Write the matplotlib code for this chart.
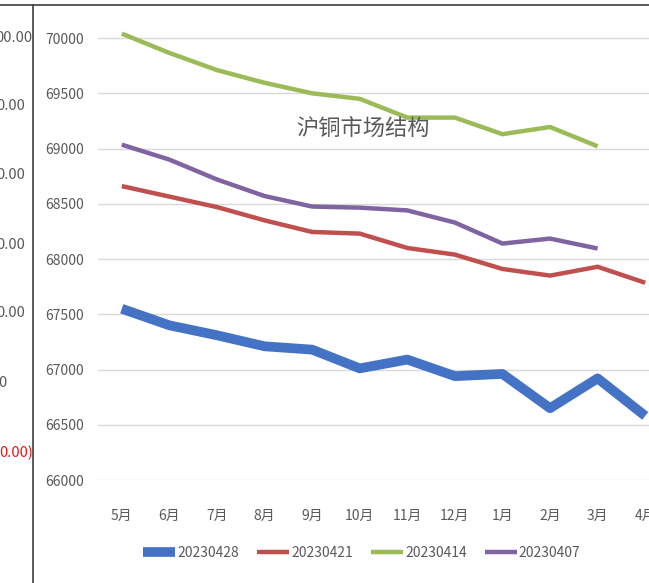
import matplotlib
matplotlib.use("Agg")
import matplotlib.pyplot as plt
from matplotlib.lines import Line2D

# month labels along the bottom axis
months = ["5月", "6月", "7月", "8月", "9月", "10月", "11月", "12月", "1月", "2月", "3月", "4月"]

# forward curves for each snapshot date
s20230428 = [67550, 67400, 67310, 67210, 67180, 67010, 67090, 66940, 66960, 66650, 66920, 66580]
s20230421 = [68660, 68565, 68470, 68350, 68245, 68230, 68100, 68040, 67910, 67850, 67930, 67785]
s20230414 = [70040, 69865, 69710, 69595, 69500, 69450, 69280, 69280, 69130, 69195, 69020]
s20230407 = [69035, 68900, 68720, 68570, 68475, 68465, 68440, 68330, 68140, 68185, 68095]

series = [
    ("20230428", s20230428, "#4472C4", 7.0),
    ("20230421", s20230421, "#C0504D", 3.2),
    ("20230414", s20230414, "#9BBB59", 3.2),
    ("20230407", s20230407, "#8064A2", 3.2),
]

yticks = list(range(66000, 70001, 500))

# partial labels of the neighbouring chart, clipped at the left edge
side_labels = ["00.00", "0.00", "0.00", "0.00", "0.00", "0", "0.00)"]
side_colors = ["#595959"] * 6 + ["#E8141B"]

fam = ["Noto Sans CJK SC", "DejaVu Sans"]
txt_color = "#595959"

W, H = 649, 583
fig = plt.figure(figsize=(W / 100, H / 100), dpi=100)
ax = fig.add_axes([98 / W, (H - 480) / H, 571 / W, 453 / H])

x = list(range(len(months)))
for name, vals, col, lw in series:
    ax.plot(x[:len(vals)], vals, color=col, lw=lw, label=name,
            solid_capstyle="butt", solid_joinstyle="round", clip_on=False)

ax.set_xlim(-0.5, 11.5)
ax.set_ylim(66000, 70100)
ax.set_yticks(yticks)
ax.set_yticklabels([str(v) for v in yticks])
ax.set_xticks(x)
ax.set_xticklabels(months)
ax.grid(axis="y", color="#D9D9D9", lw=1.0)
ax.set_axisbelow(True)
for sp in ax.spines.values():
    sp.set_visible(False)
ax.tick_params(axis="both", length=0, colors=txt_color, labelsize=10)
ax.tick_params(axis="y", pad=10)
ax.tick_params(axis="x", pad=21)
for lab in ax.get_xticklabels() + ax.get_yticklabels():
    lab.set_family(fam)

fig.text(363 / W, 1 - 128 / H, "沪铜市场结构", ha="center", va="center",
         fontsize=16, color=txt_color, family=["Noto Sans CJK SC"], fontweight="light")

leg = ax.legend(loc="center", bbox_to_anchor=(362 / W, 1 - 553 / H),
                bbox_transform=fig.transFigure, ncol=4, frameon=False,
                handlelength=2.3, handletextpad=0.15, columnspacing=1.3,
                prop={"family": fam, "size": 10})
for t in leg.get_texts():
    t.set_color(txt_color)

# frame of the surrounding sheet
fig.add_artist(Line2D([33 / W, 33 / W], [0, 1 - 5 / H], color="#404040", lw=1.2,
                      transform=fig.transFigure))
fig.add_artist(Line2D([0, 1], [1 - 5 / H, 1 - 5 / H], color="#404040", lw=1.2,
                      transform=fig.transFigure))

side_y = [38, 106, 175, 245, 313, 383, 453]
side_x = [32, 25, 25, 25, 25, 6, 33]
for lab, yy, xx, c in zip(side_labels, side_y, side_x, side_colors):
    fig.text(xx / W, 1 - yy / H, lab, ha="right", va="center", fontsize=10.5,
             color=c, family=fam)

fig.savefig("out.png", dpi=100)
